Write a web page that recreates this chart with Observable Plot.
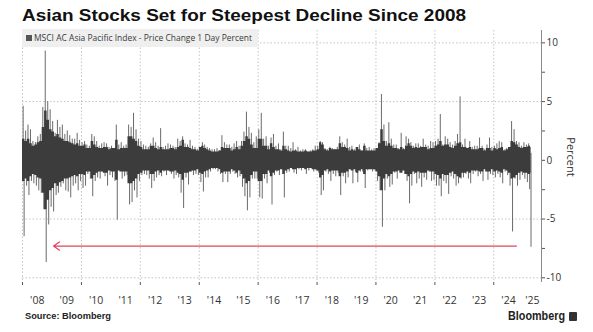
<!DOCTYPE html>
<html><head><meta charset="utf-8">
<script src="https://cdn.jsdelivr.net/npm/d3@7"></script>
<script src="https://cdn.jsdelivr.net/npm/@observablehq/plot@0.6"></script>
<style>
body{margin:0;background:#fff;}
#wrap{position:relative;width:593px;height:332px;overflow:hidden;}
.abs{position:absolute;white-space:nowrap;transform-origin:0 50%;}
#title{left:22px;top:6px;font-family:"Liberation Sans",Arial,sans-serif;font-weight:bold;font-size:16.5px;color:#111;}
#legend{left:22px;top:29px;width:236px;height:18px;background:#efefef;}
#legsq{left:26px;top:35px;width:6px;height:6px;background:#555;}
#legtxt{left:34px;top:32px;font-family:"Open Sans",sans-serif;font-size:8.5px;color:#3a3a3a;line-height:12px;}
#percent{left:571px;top:157px;font-family:"Open Sans",sans-serif;font-size:11px;color:#333;transform:translate(-50%,-50%) rotate(90deg);transform-origin:50% 50%;}
#source{left:25px;top:311px;font-family:"Liberation Sans",Arial,sans-serif;font-weight:bold;font-size:9px;color:#222;}
#logo{left:508px;top:309px;font-family:"Liberation Sans",Arial,sans-serif;font-weight:bold;font-size:12px;color:#222;}
#logoicon{left:569px;top:312px;width:8px;height:9px;background:#333;border-radius:1px;}
#chart{position:absolute;left:0;top:0;}
</style></head>
<body>
<div id="wrap">
  <div id="chart"></div>
  <div id="legend" class="abs"></div>
  <div id="legsq" class="abs"></div>
  <div id="legtxt" class="abs">MSCI AC Asia Pacific Index - Price Change 1 Day Percent</div>
  <div id="title" class="abs">Asian Stocks Set for Steepest Decline Since 2008</div>
  <div id="percent" class="abs">Percent</div>
  <div id="source" class="abs">Source: Bloomberg</div>
  <div id="logo" class="abs">Bloomberg</div>
  <div id="logoicon" class="abs"></div>
</div>
<script>
// Largest daily gain per month (%), Jan 2008 .. Apr 2025
const upMoves = [
  4.6,2.5,3.0,2.6,1.6,1.5,2.0,2.2,4.5,9.3,5.0,4.3,   // 2008
  3.3,2.3,3.4,2.8,3.0,2.2,2.5,2.1,1.8,1.8,2.3,1.7,   // 2009
  1.5,1.6,1.3,1.2,2.2,2.0,1.6,1.2,1.4,1.5,1.4,1.1,   // 2010
  1.2,1.0,3.0,1.3,1.5,1.2,1.3,3.0,2.8,4.0,2.6,1.8,   // 2011
  1.6,1.3,1.2,1.1,1.4,1.9,1.5,1.2,2.7,1.1,1.2,1.4,   // 2012
  1.3,1.2,1.1,1.8,1.6,2.0,1.4,1.3,1.7,1.2,1.1,0.9,   // 2013
  1.0,1.5,1.3,1.1,1.0,0.9,0.9,1.0,0.8,2.1,1.5,1.3,   // 2014
  1.3,1.1,1.4,1.6,1.2,1.6,2.4,4.1,2.8,2.3,1.5,2.0,   // 2015
  2.6,4.0,1.8,2.0,1.2,1.9,2.2,1.2,1.4,0.9,2.4,1.2,   // 2016
  1.2,1.0,1.5,0.9,1.1,0.8,0.9,0.9,0.7,0.8,0.9,1.2,   // 2017
  1.2,1.6,1.5,1.0,0.9,1.1,1.0,0.9,1.1,2.0,1.5,1.3,   // 2018
  1.8,1.1,1.2,0.9,1.0,1.3,0.8,1.4,1.0,1.1,0.9,1.0,   // 2019
  1.0,1.5,5.6,3.0,1.6,3.2,1.8,1.3,1.3,1.0,2.3,1.0,   // 2020
  2.0,1.8,1.5,1.2,1.4,1.4,1.2,1.8,1.3,1.2,1.6,1.5,   // 2021
  1.6,1.8,3.9,1.3,2.0,1.8,1.5,1.3,1.6,2.2,5.4,1.3,   // 2022
  1.8,1.0,1.6,1.1,1.2,1.2,1.9,1.2,0.9,1.3,1.9,1.1,   // 2023
  1.2,1.4,1.6,1.5,0.9,1.0,1.1,3.3,2.6,1.6,1.5,1.2,   // 2024
  1.5,1.3,1.4,0.6                                    // 2025
];
// Largest daily loss per month (%)
const downMoves = [
  -6.5,-2.2,-3.0,-1.8,-2.0,-2.2,-2.6,-2.8,-4.2,-8.7,-5.5,-4.0,
  -4.4,-3.0,-2.8,-2.3,-2.0,-2.6,-2.7,-3.2,-2.2,-2.0,-2.6,-1.8,
  -2.4,-2.2,-1.2,-1.6,-3.1,-1.8,-1.5,-1.6,-1.0,-1.4,-2.2,-1.3,
  -1.5,-1.8,-5.1,-1.0,-1.6,-1.4,-1.3,-3.8,-3.6,-2.6,-3.2,-1.8,
  -1.3,-1.2,-1.3,-1.6,-2.4,-1.8,-1.5,-1.3,-1.4,-1.0,-1.3,-0.9,
  -1.2,-1.6,-1.3,-1.5,-2.8,-4.1,-1.5,-2.1,-1.0,-1.3,-1.2,-1.3,
  -1.9,-2.7,-1.5,-1.5,-1.0,-0.8,-0.8,-1.0,-1.2,-1.9,-1.2,-1.9,
  -1.2,-1.0,-1.2,-1.5,-1.4,-2.3,-3.1,-4.3,-3.2,-1.6,-1.6,-1.6,
  -3.2,-3.3,-1.6,-2.0,-1.1,-3.8,-1.3,-1.0,-1.3,-0.8,-3.2,-1.1,
  -1.0,-0.7,-1.1,-1.2,-0.8,-0.9,-0.7,-1.2,-0.9,-0.6,-1.0,-0.9,
  -1.1,-3.0,-2.6,-1.0,-1.2,-1.8,-1.2,-1.4,-1.1,-3.0,-1.4,-2.0,
  -1.5,-0.8,-2.0,-1.0,-1.9,-1.0,-1.0,-2.4,-0.9,-0.8,-1.0,-0.9,
  -1.8,-2.6,-5.7,-2.6,-1.6,-2.3,-2.1,-1.1,-1.6,-1.1,-0.8,-1.2,
  -1.8,-3.7,-2.2,-1.2,-2.0,-1.6,-2.3,-1.5,-1.7,-1.0,-1.8,-1.7,
  -2.2,-2.2,-3.1,-1.8,-2.0,-2.9,-1.4,-1.6,-2.2,-2.0,-1.6,-1.5,
  -1.2,-1.6,-2.0,-1.2,-1.0,-1.4,-1.2,-1.8,-1.0,-1.7,-1.2,-1.3,
  -1.5,-1.2,-1.5,-2.0,-1.0,-1.3,-2.2,-6.1,-1.6,-2.2,-1.7,-1.3,
  -1.6,-1.9,-2.5,-7.4
];
// Typical daily move size (dense dark core), per month (%)
const coreMoves = [
  1.8,1.6,1.8,1.4,1.2,1.3,1.5,1.6,2.8,4.2,3.4,2.6,   // 2008
  2.4,2.0,2.2,1.9,1.8,1.6,1.6,1.5,1.4,1.3,1.4,1.2,   // 2009
  1.2,1.3,1.0,1.0,1.6,1.3,1.1,1.0,1.0,1.1,1.1,0.9,   // 2010
  1.0,1.0,1.7,0.9,1.0,1.0,1.0,2.0,2.0,1.8,1.6,1.2,   // 2011
  1.1,0.9,0.9,0.9,1.2,1.2,1.0,0.9,1.1,0.9,0.9,0.9,   // 2012
  1.0,1.0,0.9,1.1,1.2,1.7,1.1,1.1,1.0,0.9,0.9,0.8,   // 2013
  1.1,1.2,1.0,0.9,0.8,0.7,0.7,0.7,0.8,1.1,1.0,1.0,   // 2014
  1.0,0.8,0.9,1.1,0.9,1.2,1.6,2.0,1.8,1.3,1.0,1.0,   // 2015
  1.8,1.8,1.2,1.2,0.9,1.4,1.1,0.9,0.9,0.8,1.2,0.9,   // 2016
  0.8,0.7,0.8,0.8,0.7,0.7,0.7,0.8,0.7,0.7,0.8,0.8,   // 2017
  0.9,1.5,1.3,0.9,0.8,1.0,0.9,0.9,0.9,1.4,1.1,1.1,   // 2018
  1.0,0.8,0.9,0.8,1.1,0.9,0.8,1.2,0.8,0.8,0.8,0.8,   // 2019
  1.0,1.4,2.6,1.6,1.2,1.4,1.2,1.0,1.0,0.9,1.1,0.9,   // 2020
  1.2,1.4,1.2,1.0,1.1,1.0,1.1,1.1,1.1,0.9,1.0,1.0,   // 2021
  1.2,1.3,1.6,1.2,1.3,1.3,1.1,1.0,1.2,1.4,1.5,1.1,   // 2022
  1.1,1.0,1.1,0.9,0.9,0.9,1.0,1.0,0.8,1.0,1.0,0.8,   // 2023
  1.0,0.9,1.0,1.1,0.8,0.9,1.1,1.6,1.5,1.3,1.1,1.0,   // 2024
  1.1,1.1,1.2,1.1                                    // 2025
];
const yearLabels = ["'08","'09","'10","'11","'12","'13","'14","'15","'16","'17","'18","'19","'20","'21","'22","'23","'24","'25"];
const gridYears = [2008,2010,2012,2014,2016,2018,2020,2022,2024];
const gridValues = [-10,-5,5,10];
const yTicks = [-10,-7.5,-5,-2.5,0,2.5,5,7.5,10];
const lastDay = "2025-04-07";
const domainStart = "2008-01-01", domainEnd = "2025-08-15";
const arrowFrom = "2024-10-08", arrowTo = "2009-01-20", arrowLevel = -7.3;
const upDay = 9, downDay = 21;   // day of month used for each monthly extreme

const D = s => new Date(s + "T00:00:00Z");
const months = upMoves.map((u, i) => {
  const y = 2008 + Math.floor(i / 12), m = i % 12;
  const last = i === upMoves.length - 1;
  return {
    start: new Date(Date.UTC(y, m, 1)),
    upDate: last ? D(lastDay) : new Date(Date.UTC(y, m, upDay)),
    downDate: last ? D(lastDay) : new Date(Date.UTC(y, m, downDay)),
    up: u, down: downMoves[i], core: coreMoves[i]
  };
});
const coreRows = months.concat([{start: new Date(D(lastDay).getTime() + 86400000), core: coreMoves[coreMoves.length - 1]}]);
const x0 = D(domainStart), x1 = D(domainEnd);
const yearRows = yearLabels.map((t, i) => {
  const a = new Date(Date.UTC(2008 + i, 0, 1));
  const b = new Date(Math.min(Date.UTC(2009 + i, 0, 1), x1.getTime()));
  return {label: t, mid: new Date((a.getTime() + b.getTime()) / 2)};
});
const gridDates = gridYears.map(y => new Date(Date.UTC(y, 0, 1)));

const chart = Plot.plot({
  width: 593, height: 332,
  marginTop: 30, marginBottom: 50, marginLeft: 22, marginRight: 52,
  x: {type: "utc", domain: [x0, x1]},
  y: {domain: [-10.4, 11.05]},
  style: {fontFamily: "Open Sans, sans-serif", fontSize: "10px", color: "#333", background: "transparent"},
  marks: [
    Plot.gridY(gridValues, {stroke: "#c4c4c4", strokeOpacity: 1, strokeDasharray: "1.5,2"}),
    Plot.gridX(gridDates, {stroke: "#c4c4c4", strokeOpacity: 1, strokeDasharray: "1.5,2"}),
    Plot.ruleX(months, {x: "upDate", y1: 0, y2: "up", stroke: "#6a6a6a", strokeWidth: 1}),
    Plot.ruleX(months, {x: "downDate", y1: 0, y2: "down", stroke: "#6a6a6a", strokeWidth: 1}),
    Plot.areaY(coreRows, {x: "start", y1: d => -d.core, y2: "core", curve: "step-after", fill: "#3c3c3c"}),
    Plot.arrow([{a: D(arrowFrom), b: D(arrowTo), y: arrowLevel}],
      {x1: "a", y1: "y", x2: "b", y2: "y", stroke: "#e2445c", strokeWidth: 1.2, headLength: 9, headAngle: 70}),
    Plot.ruleX([x1], {stroke: "#8a8a8a"}),
    Plot.axisY({anchor: "right", ticks: yTicks, tickSize: 3, tickPadding: 2, label: null,
      stroke: "#555", tickFormat: d => (d % 5 === 0 ? String(d) : "")}),
    Plot.axisX({ticks: gridDates, tickSize: 3, tickFormat: () => "", label: null, stroke: "#555"}),
    Plot.text(yearRows, {x: "mid", text: "label", frameAnchor: "bottom", dy: 21, fontSize: 10.5, fill: "#333"})
  ]
});
document.getElementById("chart").appendChild(chart);

function fit(id, w) {
  const el = document.getElementById(id);
  const r = el.getBoundingClientRect().width;
  el.style.transform = "scaleX(" + (w / r) + ")";
}
fit("title", 444);
fit("legtxt", 218);
fit("source", 86);
fit("logo", 57);
</script>
</body></html>
